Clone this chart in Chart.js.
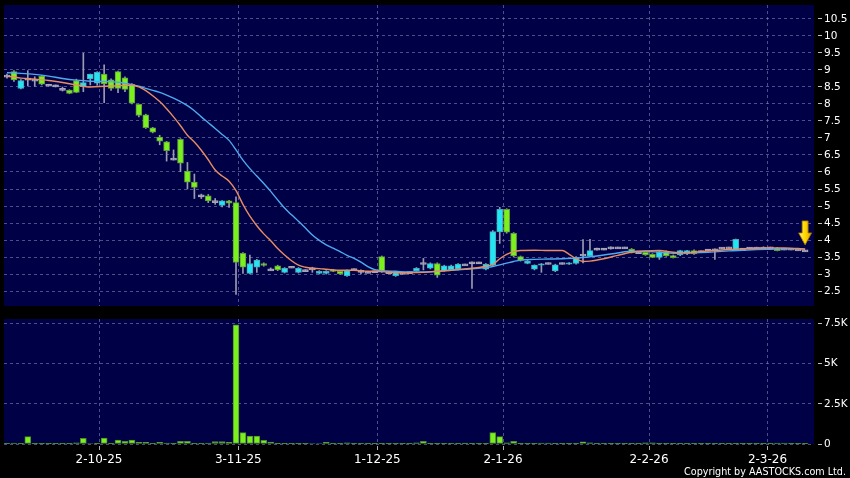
<!DOCTYPE html>
<html>
<head>
<meta charset="utf-8">
<script src="https://cdn.jsdelivr.net/npm/chart.js@4/dist/chart.umd.min.js"></script>
<style>
html,body{margin:0;padding:0;background:#000;}
#wrap{position:relative;width:850px;height:478px;overflow:hidden;background:#000;}
#pc{position:absolute;left:0;top:0;}
#vc{position:absolute;left:0;top:312px;}
#copy{position:absolute;right:4px;top:466px;color:#fff;font-family:"DejaVu Sans Condensed","DejaVu Sans",sans-serif;font-stretch:condensed;font-size:10.7px;line-height:11px;white-space:nowrap;}
</style>
</head>
<body>
<div id="wrap">
<canvas id="pc" width="850" height="312"></canvas>
<canvas id="vc" width="850" height="166"></canvas>
<div id="copy">Copyright by AASTOCKS.com Ltd.</div>
</div>
<script>
// ---- data (one entry per trading day) ----
const openP = [8.82,8.95,8.46,8.73,8.70,8.82,8.55,8.53,8.43,8.41,
8.69,8.51,8.74,8.61,8.88,8.71,8.95,8.77,8.58,7.99,
7.68,7.30,7.03,6.89,6.38,6.96,6.03,5.70,5.30,5.30,
5.13,5.02,5.15,5.10,3.61,3.02,3.20,3.31,3.12,3.24,
3.05,3.20,3.05,3.10,3.15,3.02,3.02,3.12,3.08,2.95,
3.13,3.08,3.05,3.07,3.51,3.04,2.95,3.02,3.04,3.10,
3.31,3.17,3.31,3.10,3.12,3.14,3.27,3.33,3.33,3.14,
3.25,4.24,4.90,4.20,3.51,3.31,3.14,3.26,3.31,3.09,
3.31,3.29,3.31,3.56,3.53,3.73,3.73,3.77,3.77,3.77,
3.73,3.63,3.64,3.58,3.49,3.66,3.54,3.56,3.59,3.69,
3.66,3.70,3.71,3.76,3.77,3.71,3.73,3.76,3.76,3.76,
3.77,3.76,3.73,3.73,3.71,3.68];
const highP = [8.88,8.98,8.72,8.98,8.80,8.84,8.58,8.56,8.50,8.42,
8.73,9.49,8.88,8.95,9.15,8.74,8.97,8.80,8.60,8.00,
7.70,7.31,7.08,6.90,6.65,6.98,6.28,5.94,5.35,5.34,
5.22,5.16,5.17,5.27,3.63,3.56,3.43,3.33,3.18,3.26,
3.19,3.22,3.19,3.13,3.20,3.10,3.10,3.14,3.10,3.12,
3.15,3.12,3.07,3.09,3.53,3.06,3.05,3.04,3.06,3.19,
3.46,3.33,3.33,3.26,3.26,3.31,3.29,3.36,3.35,3.31,
4.28,4.96,4.92,4.22,3.53,3.40,3.27,3.31,3.33,3.29,
3.33,3.34,3.51,4.01,4.02,3.76,3.75,3.80,3.79,3.79,
3.75,3.65,3.66,3.60,3.67,3.68,3.56,3.70,3.70,3.71,
3.68,3.72,3.74,3.78,3.79,4.03,3.75,3.78,3.79,3.80,
3.79,3.78,3.75,3.75,3.73,3.70];
const lowP = [8.76,8.66,8.44,8.53,8.52,8.56,8.53,8.50,8.38,8.30,
8.33,8.36,8.56,8.55,8.04,8.40,8.33,8.36,8.00,7.62,
7.28,7.15,6.80,6.32,6.35,6.01,5.50,5.22,5.22,5.10,
5.05,4.97,4.96,2.40,3.02,3.00,3.05,3.23,3.10,3.10,
3.03,3.18,3.03,3.08,3.05,3.00,3.00,3.07,2.99,2.93,
3.10,3.00,3.03,3.05,3.05,3.02,2.93,3.00,3.02,3.08,
3.12,3.15,2.90,3.08,3.10,3.12,3.25,2.58,3.31,3.12,
3.23,3.90,4.20,3.50,3.38,3.30,3.12,3.05,3.29,3.07,
3.29,3.28,3.29,3.33,3.51,3.70,3.71,3.73,3.75,3.75,
3.62,3.61,3.55,3.48,3.43,3.52,3.47,3.54,3.57,3.58,
3.64,3.68,3.43,3.74,3.75,3.70,3.71,3.74,3.74,3.73,
3.75,3.68,3.71,3.71,3.69,3.66];
const closeP = [8.82,8.71,8.69,8.73,8.70,8.58,8.55,8.53,8.43,8.31,
8.34,8.63,8.88,8.93,8.59,8.46,8.46,8.43,8.02,7.66,
7.30,7.17,6.91,6.63,6.38,6.26,5.70,5.55,5.30,5.15,
5.13,5.15,5.08,3.34,3.20,3.31,3.41,3.25,3.12,3.12,
3.17,3.20,3.17,3.10,3.15,3.08,3.08,3.08,3.00,3.10,
3.13,3.08,3.05,3.07,3.07,3.04,3.04,3.02,3.04,3.17,
3.31,3.31,2.97,3.24,3.24,3.29,3.27,3.33,3.33,3.29,
4.25,4.90,4.23,3.53,3.40,3.38,3.26,3.30,3.31,3.27,
3.31,3.33,3.49,3.56,3.69,3.73,3.73,3.77,3.77,3.77,
3.63,3.63,3.56,3.49,3.66,3.53,3.48,3.69,3.69,3.59,
3.66,3.70,3.71,3.76,3.77,4.02,3.73,3.76,3.76,3.76,
3.77,3.69,3.73,3.73,3.71,3.68];
const volume = [20,60,10,460,10,10,10,10,10,20,
80,350,30,10,370,20,250,170,250,100,
100,20,100,60,10,170,170,40,10,60,
150,150,100,7400,710,500,500,230,120,20,
40,40,10,10,30,30,100,10,10,80,
10,40,10,10,10,20,40,10,10,80,
170,10,10,10,10,10,50,10,10,10,
710,460,80,170,10,10,10,60,60,10,
10,10,10,130,80,10,40,10,10,10,
40,10,80,80,10,10,10,10,10,10,
10,10,10,10,10,10,10,10,10,40,
10,60,60,10,10,10];
// short moving average (orange), read at these day indices
const ma10Idx = [0,2,4,6,8,10,12,14,16,18,19,20,21,22,23,24,25,26,27,28,29,30,31,32,33,34,35,36,37,38,39,40,41,42,43,44,45,46,47,48,50,52,54,56,58,60,62,64,66,68,69,70,71,72,73,74,76,78,80,81,82,83,84,86,88,90,92,94,96,98,100,102,104,106,108,110,112,114,115];
const ma10Val = [8.82,8.76,8.73,8.69,8.63,8.56,8.50,8.52,8.54,8.55,8.50,8.39,8.24,8.07,7.86,7.62,7.36,7.08,6.88,6.64,6.36,6.06,5.88,5.73,5.45,5.05,4.70,4.42,4.18,3.98,3.75,3.56,3.39,3.26,3.20,3.17,3.16,3.14,3.12,3.11,3.11,3.08,3.07,3.05,3.04,3.05,3.08,3.11,3.15,3.19,3.23,3.28,3.45,3.58,3.66,3.69,3.70,3.69,3.69,3.58,3.45,3.37,3.38,3.45,3.55,3.64,3.68,3.69,3.64,3.63,3.66,3.69,3.72,3.74,3.76,3.77,3.77,3.75,3.73];
// long moving average (blue)
const ma20Idx = [0,2,4,6,8,10,12,14,16,18,19,20,21,22,23,24,25,26,27,28,29,30,31,32,33,34,35,36,37,38,39,40,41,42,43,44,45,46,47,48,49,50,51,52,53,54,56,58,60,62,64,66,68,70,71,72,73,74,76,78,80,82,84,86,88,90,92,94,96,98,100,102,104,106,108,110,112,114,115];
const ma20Val = [8.92,8.90,8.87,8.82,8.75,8.70,8.67,8.66,8.64,8.57,8.52,8.46,8.40,8.34,8.26,8.17,8.07,7.95,7.80,7.62,7.45,7.28,7.10,6.93,6.65,6.35,6.10,5.88,5.66,5.43,5.18,4.94,4.74,4.55,4.35,4.15,3.99,3.86,3.76,3.66,3.55,3.46,3.35,3.22,3.13,3.10,3.08,3.06,3.06,3.08,3.11,3.14,3.17,3.22,3.27,3.32,3.37,3.41,3.43,3.44,3.45,3.47,3.51,3.56,3.62,3.67,3.67,3.64,3.61,3.62,3.63,3.65,3.68,3.70,3.72,3.73,3.74,3.74,3.74];
// axis ticks
const dateTickPos = [13.26,33.33,53.36,71.47,92.51,109.58];
const dateTickLabels = ['2-10-25','3-11-25','1-12-25','2-1-26','2-2-26','2-3-26'];
const priceTicks = [2.5,3,3.5,4,4.5,5,5.5,6,6.5,7,7.5,8,8.5,9,9.5,10,10.5];
const volumeTicks = [0,2500,5000,7500];

// ---- styles ----
const X_MIN = -0.43, X_MAX = 116.28;
const PANEL = '#000046';
const GRID = 'rgba(130,130,185,0.6)';
const UP = '#22e4f4', UP_B = '#4aa9b6';
const DN = '#7cf01e', DN_B = '#5f9a3c';
const FLAT = '#a6a6b8';
const WICK = '#9a9ab0';
const TXT = '#ffffff';
Chart.defaults.font.family = "'DejaVu Sans', sans-serif";

const N = openP.length;
const idx = openP.map((_, i) => i);
const kind = i => closeP[i] > openP[i] ? 1 : (closeP[i] < openP[i] ? -1 : 0);

const panelBg = {
  id: 'panelBg',
  beforeDraw(c) {
    const a = c.chartArea, ctx = c.ctx;
    ctx.save();
    ctx.fillStyle = PANEL;
    ctx.fillRect(a.left, a.top, a.right - a.left, a.bottom - a.top);
    ctx.restore();
  }
};
const lastArrow = {
  id: 'lastArrow',
  afterDatasetsDraw(c) {
    const ctx = c.ctx;
    const x = c.scales.x.getPixelForValue(N - 1);
    const y = c.scales.y.getPixelForValue(closeP[N - 1]) - 6;
    ctx.save();
    const g = ctx.createLinearGradient(x - 7, 0, x + 7, 0);
    g.addColorStop(0, '#fff27a');
    g.addColorStop(0.5, '#ffd800');
    g.addColorStop(1, '#d89a00');
    ctx.fillStyle = g;
    ctx.strokeStyle = '#a07000';
    ctx.lineWidth = 0.8;
    ctx.beginPath();
    ctx.moveTo(x - 3, y - 24);
    ctx.lineTo(x + 3, y - 24);
    ctx.lineTo(x + 3, y - 12);
    ctx.lineTo(x + 6.5, y - 12);
    ctx.lineTo(x, y);
    ctx.lineTo(x - 6.5, y - 12);
    ctx.lineTo(x - 3, y - 12);
    ctx.closePath();
    ctx.fill();
    ctx.stroke();
    ctx.restore();
  }
};

const xAxisBase = (showLabels) => ({
  type: 'linear', min: X_MIN, max: X_MAX, offset: false,
  afterBuildTicks: s => { s.ticks = dateTickPos.map(v => ({ value: v })); },
  ticks: showLabels ? {
    display: true, color: TXT, font: { size: 12 }, padding: 3, autoSkip: false, maxRotation: 0,
    callback: (v, k) => dateTickLabels[k]
  } : { display: false },
  grid: showLabels ? { offset: false, color: GRID, lineWidth: 1, tickColor: '#b0b0c0', tickLength: 6, tickBorderDash: [0, 2, 4, 100] }
                   : { offset: false, color: GRID, lineWidth: 1, drawTicks: false },
  border: { display: false, dash: [3, 3] },
  afterFit: s => { s.height = showLabels ? 34 : 0; s.paddingLeft = 0; s.paddingRight = 0; }
});

// ---- price panel ----
new Chart(document.getElementById('pc'), {
  type: 'bar',
  data: {
    datasets: [
      { type: 'line', data: ma10Idx.map((x, k) => ({ x, y: ma10Val[k] })), borderColor: '#e98c62', borderWidth: 1.4,
        pointRadius: 0, cubicInterpolationMode: 'monotone', order: 0 },
      { type: 'line', data: ma20Idx.map((x, k) => ({ x, y: ma20Val[k] })), borderColor: '#4eaaf0', borderWidth: 1.4,
        pointRadius: 0, cubicInterpolationMode: 'monotone', order: 0 },
      { data: idx.map(i => {
          const lo = Math.min(openP[i], closeP[i]), hi = Math.max(openP[i], closeP[i]);
          return { x: i, y: kind(i) === 0 ? [lo - 0.03, hi + 0.03] : [lo, hi] };
        }),
        backgroundColor: c => { const k = kind(c.dataIndex); return k > 0 ? UP : (k < 0 ? DN : FLAT); },
        borderColor: c => { const k = kind(c.dataIndex); return k > 0 ? UP_B : (k < 0 ? DN_B : FLAT); },
        borderWidth: 1, borderSkipped: false, barThickness: 6, grouped: false, order: 1 },
      { data: idx.map(i => ({ x: i, y: [lowP[i], highP[i]] })),
        backgroundColor: WICK, borderWidth: 0, barThickness: 1, grouped: false, order: 2 }
    ]
  },
  options: {
    responsive: false, animation: false, events: [],
    layout: { padding: { left: 4, top: 5, right: 0, bottom: 6 } },
    plugins: { legend: { display: false }, tooltip: { enabled: false } },
    scales: {
      x: xAxisBase(false),
      y: {
        position: 'right', min: 2.06, max: 10.91,
        afterBuildTicks: s => { s.ticks = priceTicks.map(v => ({ value: v })); },
        ticks: { color: TXT, font: { size: 10.5 }, padding: 2, callback: v => String(v) },
        grid: { color: GRID, lineWidth: 1, tickColor: '#c0c0c8', tickLength: 8, tickBorderDash: [0, 4, 4, 100] },
        border: { display: false, dash: [3, 3] },
        afterFit: s => { s.width = 36; s.paddingTop = 0; s.paddingBottom = 0; }
      }
    }
  },
  plugins: [panelBg, lastArrow]
});

// ---- volume panel ----
new Chart(document.getElementById('vc'), {
  type: 'bar',
  data: {
    datasets: [
      { data: idx.map(i => ({ x: i, y: volume[i] })), backgroundColor: '#7cf01e', borderColor: '#4f8a2c',
        borderWidth: 1, borderSkipped: false, barThickness: 6, grouped: false }
    ]
  },
  options: {
    responsive: false, animation: false, events: [],
    layout: { padding: { left: 4, top: 7, right: 0, bottom: 0 } },
    plugins: { legend: { display: false }, tooltip: { enabled: false } },
    scales: {
      x: xAxisBase(true),
      y: {
        position: 'right', min: 0, max: 7770,
        afterBuildTicks: s => { s.ticks = volumeTicks.map(v => ({ value: v })); },
        ticks: { color: TXT, font: { size: 10.5 }, padding: 2, callback: v => v === 0 ? '0' : (v / 1000) + 'K' },
        grid: { color: GRID, lineWidth: 1, tickColor: '#c0c0c8', tickLength: 8, tickBorderDash: [0, 4, 4, 100] },
        border: { display: false, dash: [3, 3] },
        afterFit: s => { s.width = 36; s.paddingTop = 0; s.paddingBottom = 0; }
      }
    }
  },
  plugins: [panelBg]
});
</script>
</body>
</html>
